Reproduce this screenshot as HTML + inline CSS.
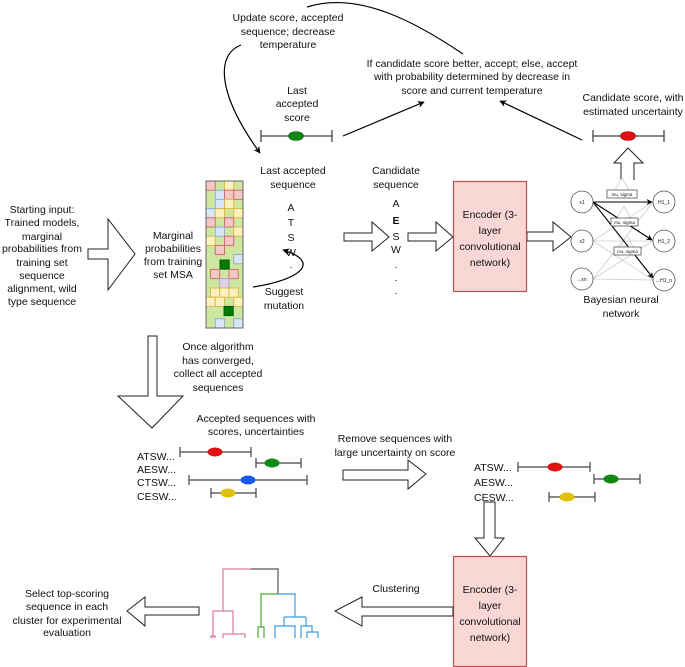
<!DOCTYPE html>
<html><head><meta charset="utf-8"><style>
html,body{margin:0;padding:0;background:#fff}
svg{display:block}
text{font-family:"Liberation Sans",Arial,sans-serif;font-size:10.5px;fill:#111}
</style></head><body>
<svg width="685" height="667" viewBox="0 0 685 667" xmlns="http://www.w3.org/2000/svg">
<defs>
<marker id="ah" viewBox="0 0 10 10" refX="9" refY="5" markerWidth="7" markerHeight="7" orient="auto-start-reverse" markerUnits="userSpaceOnUse"><path d="M0,0 L10,5 L0,10 L3,5 z" fill="#000"/></marker>
<marker id="ahs" viewBox="0 0 10 10" refX="9" refY="5" markerWidth="6" markerHeight="6" orient="auto" markerUnits="userSpaceOnUse"><path d="M0,0 L10,5 L0,10 L3,5 z" fill="#000"/></marker>
</defs>

<g text-anchor="middle">
<text x="288" y="21">Update score, accepted</text>
<text x="288" y="35">sequence; decrease</text>
<text x="288" y="48">temperature</text>
<text x="472" y="67">If candidate score better, accept; else, accept</text>
<text x="472" y="80">with probability determined by decrease in</text>
<text x="472" y="94">score and current temperature</text>
<text x="297" y="94">Last</text>
<text x="297" y="107">accepted</text>
<text x="297" y="121">score</text>
<text x="633" y="101">Candidate score, with</text>
<text x="633" y="115">estimated uncertainty</text>
<text x="293" y="174">Last accepted</text>
<text x="293" y="188">sequence</text>
<text x="396" y="174">Candidate</text>
<text x="396" y="188">sequence</text>
</g>

<path d="M241,45 C215,55 218,95 260,153" fill="none" stroke="#000" stroke-width="1.2" marker-end="url(#ah)"/>
<path d="M463,54 C420,25 360,-10 307,7" fill="none" stroke="#000" stroke-width="1.2"/>
<line x1="343" y1="136" x2="424" y2="102" stroke="#000" stroke-width="1.2" marker-end="url(#ah)"/>
<line x1="582" y1="140" x2="500" y2="101" stroke="#000" stroke-width="1.2" marker-end="url(#ah)"/>

<g stroke="#444" stroke-width="1.3">
<line x1="261" y1="136" x2="332" y2="136"/><line x1="261" y1="130" x2="261" y2="142"/><line x1="332" y1="130" x2="332" y2="142"/>
<line x1="593" y1="136" x2="664" y2="136"/><line x1="593" y1="130" x2="593" y2="142"/><line x1="664" y1="130" x2="664" y2="142"/>
</g>
<ellipse cx="296" cy="136" rx="7.5" ry="4.5" fill="#118811" stroke="#0a5a0a" stroke-width="0.6"/>
<ellipse cx="628" cy="136" rx="7.5" ry="4.5" fill="#e01010" stroke="#a00" stroke-width="0.6"/>

<path d="M621,180 L621,163 L614,163 L628,148 L643,163 L634,163 L634,180" fill="#fff" stroke="#222" stroke-width="1"/>

<g text-anchor="middle">
<text x="42" y="213">Starting input:</text>
<text x="42" y="226">Trained models,</text>
<text x="42" y="240">marginal</text>
<text x="42" y="252">probabilities from</text>
<text x="42" y="266">training set</text>
<text x="42" y="279">sequence</text>
<text x="42" y="292">alignment, wild</text>
<text x="42" y="305">type sequence</text>
<text x="173" y="239">Marginal</text>
<text x="173" y="252">probabilities</text>
<text x="173" y="265">from training</text>
<text x="173" y="278">set MSA</text>
</g>
<path d="M88,249 L108,249 L108,219 L135,254 L108,290 L108,259 L88,259 z" fill="#fff" stroke="#222" stroke-width="1"/>

<rect x="206" y="181" width="37" height="147" fill="#cde6a0" stroke="#666" stroke-width="0.8"/>
<g stroke-width="0.9">
<rect x="206" y="181" width="9.25" height="9.2" fill="#f4c7c7" stroke="#c66"/>
<rect x="224.5" y="181" width="9.25" height="9.2" fill="#fdf0c0" stroke="#d8b840"/>
<rect x="215.25" y="190.2" width="9.25" height="9.2" fill="#d8e6f6" stroke="#8aaad6"/>
<rect x="224.5" y="190.2" width="9.25" height="9.2" fill="#f4c7c7" stroke="#c66"/>
<rect x="233.75" y="190.2" width="9.25" height="9.2" fill="#f4c7c7" stroke="#c66"/>
<rect x="215.25" y="199.4" width="9.25" height="9.2" fill="#d8e6f6" stroke="#8aaad6"/>
<rect x="224.5" y="199.4" width="9.25" height="9.2" fill="#fdf0c0" stroke="#d8b840"/>
<rect x="206" y="208.6" width="9.25" height="9.2" fill="#d8e6f6" stroke="#8aaad6"/>
<rect x="215.25" y="208.6" width="9.25" height="9.2" fill="#fdf0c0" stroke="#d8b840"/>
<rect x="233.75" y="208.6" width="9.25" height="9.2" fill="#fdf0c0" stroke="#d8b840"/>
<rect x="206" y="217.8" width="9.25" height="9.2" fill="#f4c7c7" stroke="#c66"/>
<rect x="224.5" y="217.8" width="9.25" height="9.2" fill="#f4c7c7" stroke="#c66"/>
<rect x="215.25" y="227" width="9.25" height="9.2" fill="#d8e6f6" stroke="#8aaad6"/>
<rect x="233.75" y="227" width="9.25" height="9.2" fill="#fdf0c0" stroke="#d8b840"/>
<rect x="206" y="236.2" width="9.25" height="9.2" fill="#fdf0c0" stroke="#d8b840"/>
<rect x="224.5" y="236.2" width="9.25" height="9.2" fill="#f4c7c7" stroke="#c66"/>
<rect x="215.25" y="245.4" width="9.25" height="9.2" fill="#f4c7c7" stroke="#c66"/>
<rect x="233.75" y="254.6" width="9.25" height="9.2" fill="#d8e6f6" stroke="#8aaad6"/>
<rect x="220" y="260" width="9.25" height="9.2" fill="#007a00" stroke="#005a00"/>
<rect x="210.5" y="269.5" width="9.25" height="9.2" fill="#f4c7c7" stroke="#c66"/>
<rect x="229" y="269.5" width="9.25" height="9.2" fill="#f4c7c7" stroke="#c66"/>
<rect x="219.75" y="278.7" width="9.25" height="9.2" fill="#e0d0e8" stroke="#b09ac8"/>
<rect x="210.5" y="288" width="9.25" height="9.2" fill="#fdf0c0" stroke="#d8b840"/>
<rect x="219.75" y="288" width="9.25" height="9.2" fill="#fdf0c0" stroke="#d8b840"/>
<rect x="229" y="288" width="9.25" height="9.2" fill="#fdf0c0" stroke="#d8b840"/>
<rect x="206" y="297.2" width="9.25" height="9.2" fill="#fdf0c0" stroke="#d8b840"/>
<rect x="215.25" y="297.2" width="9.25" height="9.2" fill="#fdf0c0" stroke="#d8b840"/>
<rect x="233.75" y="297.2" width="9.25" height="9.2" fill="#fdf0c0" stroke="#d8b840"/>
<rect x="224" y="306.4" width="9.25" height="9.2" fill="#007a00" stroke="#005a00"/>
<rect x="215.25" y="318.8" width="9.25" height="9.2" fill="#d8e6f6" stroke="#8aaad6"/>
<rect x="233.75" y="318.8" width="9.25" height="9.2" fill="#d8e6f6" stroke="#8aaad6"/>
</g>
<rect x="206" y="181" width="37" height="147" fill="none" stroke="#666" stroke-width="1"/>

<g text-anchor="middle">
<text x="291" y="211">A</text><text x="291" y="226">T</text><text x="291" y="241">S</text><text x="291" y="256">W</text><text x="291" y="268">.</text>
<text x="396" y="207">A</text><text x="396" y="224" font-weight="bold">E</text><text x="396" y="240">S</text><text x="396" y="253">W</text>
<text x="396" y="268">.</text><text x="396" y="281">.</text><text x="396" y="294">.</text>
<text x="284" y="295">Suggest</text>
<text x="284" y="309">mutation</text>
</g>
<path d="M253,287 C300,280 322,262 283,250" fill="none" stroke="#000" stroke-width="1.2" marker-end="url(#ah)"/>

<path d="M344,233 L372,233 L372,222 L389,237 L372,251 L372,241 L344,241 z" fill="#fff" stroke="#222" stroke-width="1"/>
<path d="M408,233 L436,233 L436,222 L453,237 L436,251 L436,241 L408,241 z" fill="#fff" stroke="#222" stroke-width="1"/>
<path d="M527,232 L553,232 L553,222 L571,237 L553,251 L553,241 L527,241 z" fill="#fff" stroke="#222" stroke-width="1"/>

<rect x="453.5" y="181.5" width="73" height="110" fill="#f9d7d5" stroke="#c0504d" stroke-width="1.2"/>
<g text-anchor="middle">
<text x="490" y="218">Encoder (3-</text><text x="490" y="234">layer</text><text x="490" y="250">convolutional</text><text x="490" y="266">network)</text>
</g>

<g stroke="#ccc" stroke-width="0.8">
<line x1="593" y1="241" x2="653" y2="202"/><line x1="593" y1="241" x2="653" y2="241"/><line x1="593" y1="241" x2="653" y2="280"/>
<line x1="593" y1="279" x2="653" y2="202"/><line x1="593" y1="279" x2="653" y2="241"/><line x1="593" y1="279" x2="653" y2="280"/>
<path d="M615,190 L622,178 L629,190" fill="none"/><path d="M617,218 L624,206 L631,218" fill="none"/><path d="M621,247 L627,235 L633,247" fill="none"/>
</g>
<g stroke="#000" stroke-width="1.1">
<line x1="593" y1="202" x2="652" y2="202" marker-end="url(#ahs)"/>
<line x1="593" y1="202" x2="652" y2="240" marker-end="url(#ahs)"/>
<line x1="593" y1="202" x2="653" y2="278" marker-end="url(#ahs)"/>
</g>
<g fill="#fff" stroke="#555" stroke-width="0.8">
<circle cx="582" cy="202" r="11"/><circle cx="582" cy="241" r="11"/><circle cx="582" cy="279" r="11"/>
<circle cx="664" cy="202" r="11"/><circle cx="664" cy="241" r="11"/><circle cx="664" cy="280" r="11"/>
<rect x="607" y="190" width="30" height="8"/><rect x="611" y="218" width="27" height="8"/><rect x="614" y="247" width="27" height="8"/>
</g>
<g text-anchor="middle">
<text x="582" y="204" style="font-size:5px">x1</text><text x="582" y="243" style="font-size:5px">x2</text><text x="582" y="281" style="font-size:5px">...xn</text>
<text x="664" y="204" style="font-size:5px">H1_1</text><text x="664" y="243" style="font-size:5px">H1_2</text><text x="664" y="282" style="font-size:5px">...H1_n</text>
<text x="622" y="196" style="font-size:4.5px">mu, sigma</text><text x="624.5" y="224" style="font-size:4.5px">mu, sigma</text><text x="627.5" y="253" style="font-size:4.5px">mu, sigma</text>
</g>
<g text-anchor="middle"><text x="621" y="303">Bayesian neural</text><text x="621" y="317">network</text></g>

<path d="M148,336 L157,336 L157,396 L183,396 L152,428 L118,396 L148,396 z" fill="#fff" stroke="#222" stroke-width="1"/>
<g text-anchor="middle">
<text x="218" y="350">Once algorithm</text><text x="218" y="364">has converged,</text><text x="218" y="377">collect all accepted</text><text x="218" y="391">sequences</text>
<text x="256" y="422">Accepted sequences with</text><text x="256" y="435">scores, uncertainties</text>
<text x="395" y="442">Remove sequences with</text><text x="395" y="456">large uncertainty on score</text>
</g>

<g>
<text x="137" y="460">ATSW...</text><text x="137" y="473">AESW...</text><text x="137" y="486">CTSW...</text><text x="137" y="500">CESW...</text>
<text x="474" y="471">ATSW...</text><text x="474" y="486">AESW...</text><text x="474" y="501">CESW...</text>
</g>
<g stroke="#444" stroke-width="1.2">
<line x1="180" y1="452" x2="251" y2="452"/><line x1="180" y1="447" x2="180" y2="457"/><line x1="251" y1="447" x2="251" y2="457"/>
<line x1="256" y1="463" x2="301" y2="463"/><line x1="256" y1="458" x2="256" y2="468"/><line x1="301" y1="458" x2="301" y2="468"/>
<line x1="189" y1="480" x2="307" y2="480"/><line x1="189" y1="475" x2="189" y2="485"/><line x1="307" y1="475" x2="307" y2="485"/>
<line x1="211" y1="493" x2="256" y2="493"/><line x1="211" y1="488" x2="211" y2="498"/><line x1="256" y1="488" x2="256" y2="498"/>
<line x1="518" y1="467" x2="590" y2="467"/><line x1="518" y1="462" x2="518" y2="472"/><line x1="590" y1="462" x2="590" y2="472"/>
<line x1="594" y1="479" x2="640" y2="479"/><line x1="594" y1="474" x2="594" y2="484"/><line x1="640" y1="474" x2="640" y2="484"/>
<line x1="549" y1="497" x2="595" y2="497"/><line x1="549" y1="492" x2="549" y2="502"/><line x1="595" y1="492" x2="595" y2="502"/>
</g>
<ellipse cx="215" cy="452" rx="7.5" ry="4.5" fill="#e01010"/>
<ellipse cx="272" cy="463" rx="7.5" ry="4.5" fill="#118811"/>
<ellipse cx="248" cy="480" rx="7.5" ry="4.5" fill="#1a56f0"/>
<ellipse cx="228" cy="493" rx="7.5" ry="4.5" fill="#e0c000"/>
<ellipse cx="555" cy="467" rx="7.5" ry="4.5" fill="#e01010"/>
<ellipse cx="611" cy="479" rx="7.5" ry="4.5" fill="#118811"/>
<ellipse cx="567" cy="497" rx="7.5" ry="4.5" fill="#e0c000"/>

<path d="M343,470 L408,470 L408,460 L426,474 L408,489 L408,480 L343,480 z" fill="#fff" stroke="#222" stroke-width="1"/>

<path d="M484,502 L495,502 L495,538 L504,538 L490,556 L475,538 L484,538 z" fill="#fff" stroke="#222" stroke-width="1"/>

<rect x="453.5" y="556.5" width="73" height="110" fill="#f9d7d5" stroke="#c0504d" stroke-width="1.2"/>
<g text-anchor="middle">
<text x="490" y="593">Encoder (3-</text><text x="490" y="609">layer</text><text x="490" y="625">convolutional</text><text x="490" y="641">network)</text>
<text x="396" y="592">Clustering</text>
<text x="67" y="597">Select top-scoring</text><text x="67" y="610">sequence in each</text><text x="67" y="624">cluster for experimental</text><text x="67" y="636">evaluation</text>
</g>
<path d="M453,607 L362,607 L362,597 L335,611 L362,626 L362,616 L453,616 z" fill="#fff" stroke="#222" stroke-width="1"/>
<path d="M199,607 L145,607 L145,597 L127,611 L145,626 L145,615 L199,615 z" fill="#fff" stroke="#222" stroke-width="1"/>

<g fill="none" stroke-width="1.2">
<path d="M251,569 L278,569 L278,594" stroke="#555"/>
<path d="M251,569 L223,569 L223,611 M213,638 L213,611 L233,611 L233,634 M223,638 L223,634 L245,634 L245,638 M211,638 L211,636 L215,636 L215,638" stroke="#e07a9a"/>
<path d="M278,594 L261,594 L261,627 M258,638 L258,627 L264,627 L264,638" stroke="#4aaa2a"/>
<path d="M278,594 L295,594 L295,617 M284,617 L306,617 M284,617 L284,626 M275,638 L275,626 L295,626 L295,638 M306,617 L306,626 M301,638 L301,626 L312,626 L312,632 M307,638 L307,632 L318,632 L318,638" stroke="#3a9ee0"/>
</g>
</svg>
</body></html>
